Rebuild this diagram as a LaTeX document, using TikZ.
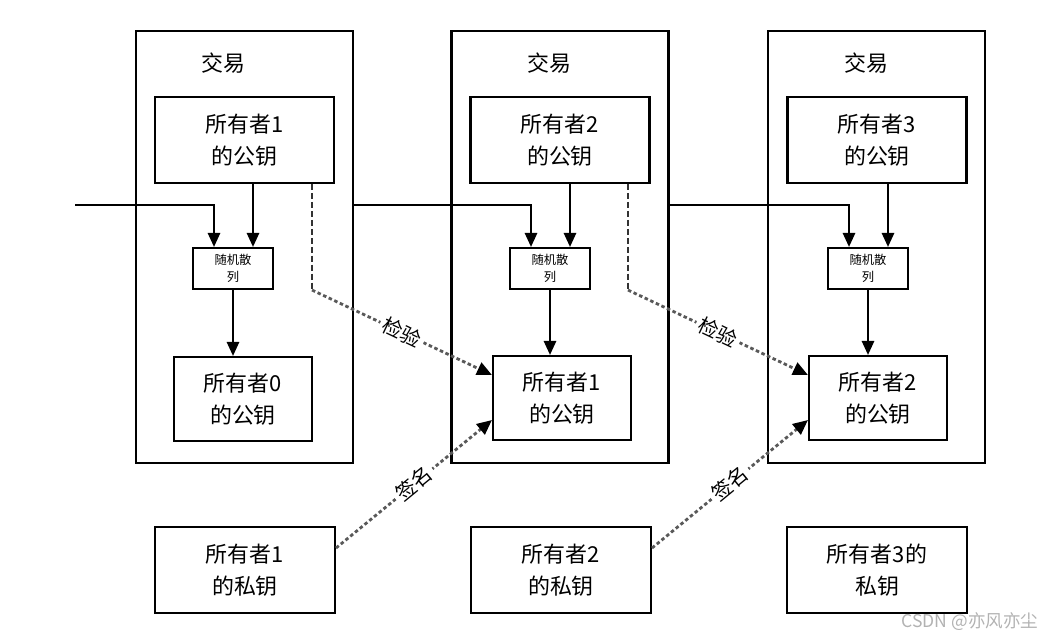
\documentclass[tikz,border=0pt]{standalone}
\usepackage{fontspec}
\setmainfont{Noto Sans CJK SC}
\usetikzlibrary{arrows.meta}

\begin{document}
\begin{tikzpicture}[x=0.02cm, y=-0.02cm, line width=1.2pt,
    tx/.style={draw, minimum width=4.34cm, minimum height=8.64cm},
    key/.style={draw, minimum width=3.58cm, minimum height=1.72cm, align=center, font=\fontsize{12.5}{18}\selectfont},
    hash/.style={draw, minimum width=1.6cm, minimum height=0.82cm, align=center, inner sep=1pt, font=\fontsize{7}{10}\selectfont},
    old/.style={draw, minimum width=2.76cm, minimum height=1.68cm, align=center, font=\fontsize{12.5}{18}\selectfont},
    priv/.style={draw, minimum width=3.6cm, minimum height=1.72cm, align=center, font=\fontsize{12.5}{18}\selectfont},
    flow/.style={-{Triangle[length=8pt,width=7pt]}},
    dashline/.style={dash pattern=on 3.4pt off 1.7pt, gray!40!black},
    chk/.style={dash pattern=on 2pt off 1.5pt, gray!70!black, line width=1.6pt, -{Triangle[length=8.5pt,width=7.5pt,black]}},
    tag/.style={font=\fontsize{11.5}{14}\selectfont, text=black, fill=white, inner sep=2pt, sloped}]
    \useasboundingbox (0,0) rectangle (1054,641);
    \node[tx] (t1) at (244.5,247) {};
    \node[tx] (t2) at (560,247) {};
    \node[tx] (t3) at (876.5,247) {};
    \node[font=\fontsize{12.5}{14}\selectfont] (d1) at (223,63) {交易};
    \node[font=\fontsize{12.5}{14}\selectfont] (d2) at (549,63) {交易};
    \node[font=\fontsize{12.5}{14}\selectfont] (d3) at (866,63) {交易};
    \node[key] (k1) at (244.5,140) {所有者1\\的公钥};
    \node[key] (k2) at (560,140) {所有者2\\的公钥};
    \node[key] (k3) at (877,140) {所有者3\\的公钥};
    \node[hash] (h1) at (233,268.5) {随机散\\列};
    \node[hash] (h2) at (550,268.5) {随机散\\列};
    \node[hash] (h3) at (868,268.5) {随机散\\列};
    \node[old] (o1) at (243,399) {所有者0\\的公钥};
    \node[old] (o2) at (562,398) {所有者1\\的公钥};
    \node[old] (o3) at (878,398) {所有者2\\的公钥};
    \node[priv] (p1) at (245,570) {所有者1\\的私钥};
    \node[priv] (p2) at (561,570) {所有者2\\的私钥};
    \node[priv] (p3) at (877,570) {所有者3的\\私钥};
    \node[font=\fontsize{10}{12}\selectfont, text=gray!60] (mark) at (970,622) {CSDN @亦风亦尘};
    \coordinate (in0) at (75,205);
    \coordinate (a1) at ([xshift=-0.38cm]h1.north);
    \coordinate (a2) at ([xshift=-0.38cm]h2.north);
    \coordinate (a3) at ([xshift=-0.38cm]h3.north);
    \coordinate (b1) at ([xshift=0.4cm]h1.north);
    \coordinate (b2) at ([xshift=0.4cm]h2.north);
    \coordinate (b3) at ([xshift=0.4cm]h3.north);
    \draw[flow] (in0) -| (a1);
    \draw[flow] (t1.east |- in0) -| (a2);
    \draw[flow] (t2.east |- in0) -| (a3);
    \draw[flow] (k1.south -| b1) -- (b1);
    \draw[flow] (k2.south -| b2) -- (b2);
    \draw[flow] (k3.south -| b3) -- (b3);
    \draw[flow] (h1.south) -- (h1.south |- o1.north);
    \draw[flow] (h2.south) -- (h2.south |- o2.north);
    \draw[flow] (h3.south) -- (h3.south |- o3.north);
    \coordinate (v1) at ([xshift=1.35cm]k1.south);
    \coordinate (v2) at ([xshift=1.36cm]k2.south);
    \coordinate (w1) at (v1 |- h1.south);
    \coordinate (w2) at (v2 |- h2.south);
    \draw[dashline] (v1) -- (w1);
    \draw[dashline] (v2) -- (w2);
    \draw[chk] (w1) -- node[tag] {检验} ([yshift=0.46cm]o2.west);
    \draw[chk] (w2) -- node[tag] {检验} ([yshift=0.46cm]o3.west);
    \draw[chk] ([yshift=0.44cm]p1.east) -- node[tag] {签名} ([yshift=-0.44cm]o2.west);
    \draw[chk] ([yshift=0.44cm]p2.east) -- node[tag] {签名} ([yshift=-0.44cm]o3.west);
\end{tikzpicture}
\end{document}
